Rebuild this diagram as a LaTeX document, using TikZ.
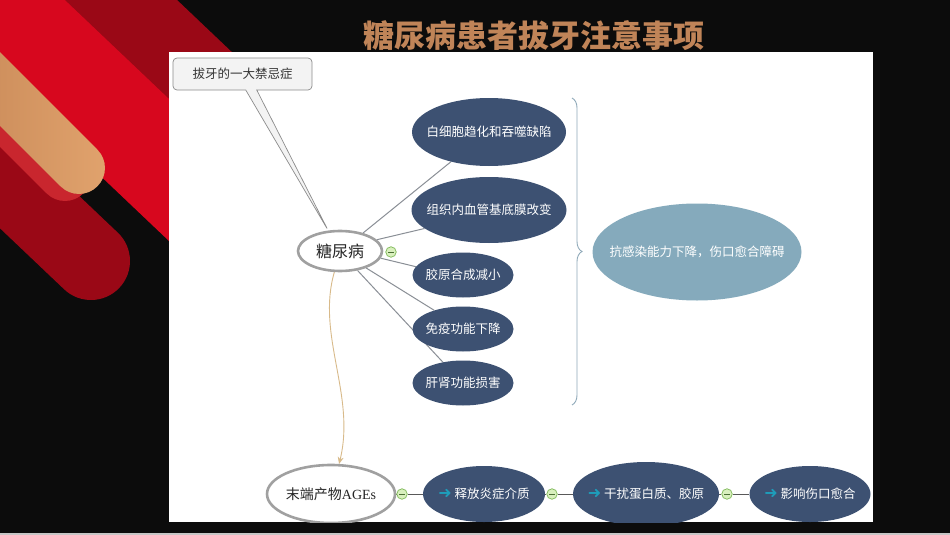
\documentclass[tikz,border=0pt]{standalone}
\usepackage{fontspec}
\setmainfont{Noto Sans CJK SC}
\newfontfamily\serifl{Liberation Serif}
\newfontfamily\dejavu{DejaVu Sans}
\usetikzlibrary{shapes.geometric,shapes.callouts,decorations.pathreplacing,arrows.meta}
\pgfdeclarelayer{back}
\pgfdeclarelayer{lines}
\pgfsetlayers{back,lines,main}
\definecolor{bgblack}{HTML}{0C0C0C}
\definecolor{darkred}{HTML}{9A0816}
\definecolor{brightred}{HTML}{D7071E}
\definecolor{shadowred}{HTML}{C9262E}
\definecolor{tanA}{HTML}{BA7A4B}
\definecolor{tanB}{HTML}{E2A46E}
\definecolor{titlec}{HTML}{C08458}
\definecolor{navy}{HTML}{3D5172}
\definecolor{steel}{HTML}{85AABC}
\definecolor{linegray}{HTML}{8A8F96}
\definecolor{bracec}{HTML}{8FA9B9}
\definecolor{arrowc}{HTML}{1E9DBA}
\definecolor{tanline}{HTML}{D8BA8A}
\definecolor{togfill}{HTML}{D9F0BE}
\definecolor{togdraw}{HTML}{7DB856}
\definecolor{calloutfill}{HTML}{F3F3F3}
\definecolor{calloutdraw}{HTML}{8C8C8C}
\definecolor{rootdraw}{HTML}{A0A0A0}
\newcommand\ctrtext[1]{\makebox[0pt][c]{#1}}
\newcommand\arrglyph{{\dejavu\bfseries\fontsize{16}{16}\selectfont\color{arrowc}➜}}
\begin{document}
\begin{tikzpicture}[x=1pt,y=-1pt,
  navynode/.style={ellipse, fill=navy, text=white, inner sep=0pt,
    font=\fontsize{12.5}{14}\selectfont},
  rootnode/.style={ellipse, draw=rootdraw, line width=2.6pt, fill=white,
    inner sep=0pt, text=black!85},
  toggle/.style={circle, draw=togdraw, fill=togfill, line width=0.7pt,
    minimum size=10.5pt, inner sep=0pt,
    path picture={\draw[togdraw!60!black, line width=0.8pt]
      ([xshift=-2.6pt]path picture bounding box.center) --
      ([xshift=2.6pt]path picture bounding box.center);}},
  branch/.style={draw=linegray, line width=1pt},
  chain/.style={draw=black!65, line width=0.9pt},
  barnode/.style={rotate=-45, minimum width=300pt, minimum height=52pt,
    rounded corners=26pt, inner sep=0pt},
]
\useasboundingbox (0,0) rectangle (950,535);
\begin{pgfonlayer}{back}
  \fill[bgblack] (0,0) rectangle (950,535);
  \fill[gray!45] (0,533) rectangle (950,535);
  \begin{scope}
    \clip (0,0) rectangle (950,535);
    \draw[darkred, line width=80pt] (-62,-172) -- (394.5,261.8);
    \draw[brightred, line width=103pt] (-191,-172) -- (243.75,241);
    \draw[darkred, line width=78pt, line cap=round] (-199,-14.6) -- (91,261);
    \node[barnode, fill=shadowred] (shadowbar) at (-22.7,87.3) {};
    \node[barnode, left color=tanA, right color=tanB] (tanbar) at (-8.7,80.3) {};
  \end{scope}
  \fill[white] (169,52) rectangle (873,522);
\end{pgfonlayer}

\node[font=\fontsize{31}{31}\selectfont\bfseries, text=titlec] (title) at (534,36) {糖尿病患者拔牙注意事项};

\begin{scope}
  \clip (169,52) rectangle (873,522);
  % root
  \node[rootnode, minimum width=84pt, minimum height=40pt,
    font=\fontsize{16}{16}\selectfont] (tnb) at (340,251) {\ctrtext{糖尿病}};
  \node[toggle] (t0) at (391,252) {};
  % branches
  \node[navynode, minimum width=154pt, minimum height=68pt] (n1) at (489,132) {\ctrtext{白细胞趋化和吞噬缺陷}};
  \node[navynode, minimum width=155pt, minimum height=66pt] (n2) at (489,210) {\ctrtext{组织内血管基底膜改变}};
  \node[navynode, minimum width=101pt, minimum height=45pt] (n3) at (463,275) {\ctrtext{胶原合成减小}};
  \node[navynode, minimum width=101pt, minimum height=45pt] (n4) at (463,329) {\ctrtext{免疫功能下降}};
  \node[navynode, minimum width=101pt, minimum height=45pt] (n5) at (463,383) {\ctrtext{肝肾功能损害}};
  % brace and result
  \draw[bracec, line width=0.9pt, decorate, decoration={brace, amplitude=10pt}]
    (572,98) -- (572,405);
  \node[ellipse, fill=steel, text=white, inner sep=0pt, minimum width=209pt,
    minimum height=97pt, font=\fontsize{12.5}{14}\selectfont] (res) at (697,252)
    {\ctrtext{抗感染能力下降，伤口愈合障碍}};
  % callout
  \node[rectangle callout, callout absolute pointer={(tnb.120)},
    callout pointer width=11pt, draw=calloutdraw, fill=calloutfill,
    rounded corners=4pt, line width=0.7pt, minimum width=139pt,
    minimum height=32pt, inner sep=0pt, text=black!80,
    font=\fontsize{12.5}{14}\selectfont] (warn) at (242.5,74) {拔牙的一大禁忌症};
  % bottom row
  \node[rootnode, minimum width=128pt, minimum height=58pt,
    font=\fontsize{14}{14}\selectfont] (ages) at (331,494) {\ctrtext{末端产物{\serifl AGEs}}};
  \node[toggle] (t1) at (402,494) {};
  \node[navynode, minimum width=122pt, minimum height=56pt] (b1) at (484,494) {\ctrtext{\arrglyph\ 释放炎症介质}};
  \node[toggle] (t2) at (552,494) {};
  \node[navynode, minimum width=146pt, minimum height=64pt] (b2) at (646,494) {\ctrtext{\arrglyph\ 干扰蛋白质、胶原}};
  \node[toggle] (t3) at (727,494) {};
  \node[navynode, minimum width=121pt, minimum height=56pt] (b3) at (810,494) {\ctrtext{\arrglyph\ 影响伤口愈合}};

  \begin{pgfonlayer}{lines}
    \draw[branch] (tnb.38) -- (n1.218);
    \draw[branch] (tnb.17) -- (n2.196);
    \draw[branch] (tnb.350) -- (n3.170);
    \draw[branch] (tnb.327) -- (n4.147);
    \draw[branch] (tnb.312) -- (n5.134);
    \draw[tanline, line width=0.9pt, -{Stealth[length=7pt,width=6pt]}]
      (tnb.255) .. controls (316,335) and (356,395) .. (ages.75);
    \draw[chain] (ages.east) -- (t1) -- (b1.west);
    \draw[chain] (b1.east) -- (t2) -- (b2.west);
    \draw[chain] (b2.east) -- (t3) -- (b3.west);
  \end{pgfonlayer}
\end{scope}
\end{tikzpicture}
\end{document}
